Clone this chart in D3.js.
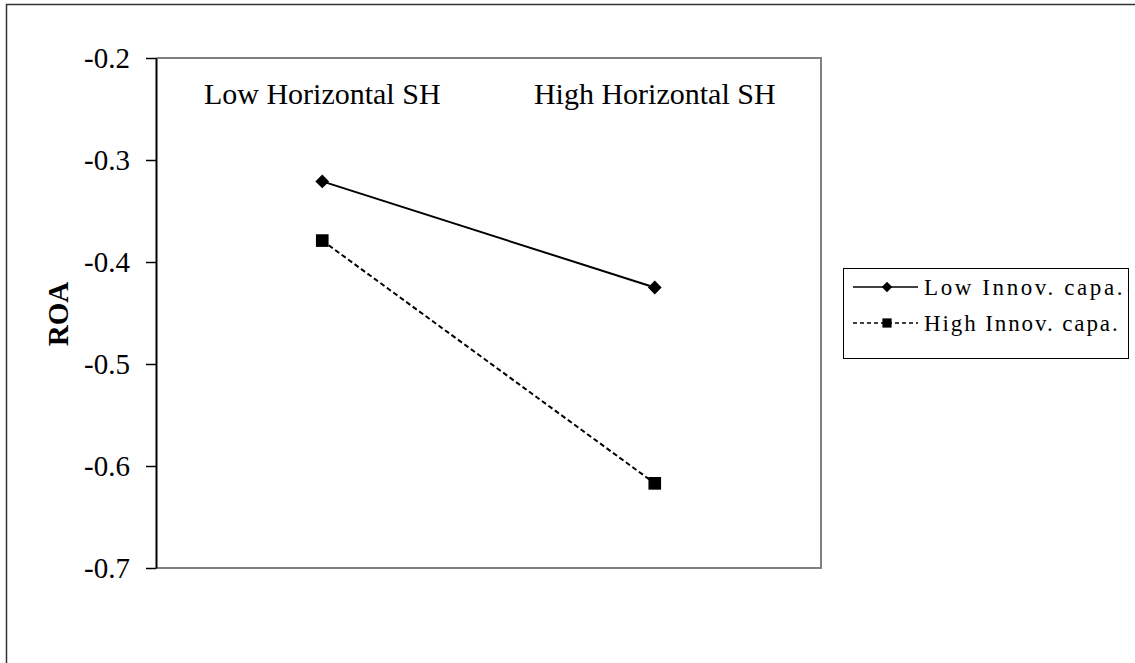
<!DOCTYPE html>
<html>
<head>
<meta charset="utf-8">
<script src="https://cdn.jsdelivr.net/npm/d3@7"></script>
<style>
  body { margin: 0; background: #fff; }
  svg { display: block; font-family: "Liberation Serif", "Times New Roman", serif; }
</style>
</head>
<body>
<div class="chart"></div>
<script>
const categories = ['Low Horizontal SH', 'High Horizontal SH'];
const seriesNames = ['Low Innov. capa.', 'High Innov. capa.'];
const lowInnov = [-0.321, -0.425];
const highInnov = [-0.379, -0.617];
const yTicks = [-0.2, -0.3, -0.4, -0.5, -0.6, -0.7];

const width = 1135, height = 663;
const plot = {left: 156, top: 58, right: 821, bottom: 568};

const svg = d3.select('.chart')
  .append('svg')
    .attr('width', width)
    .attr('height', height);

// outer frame
svg.append('rect')
  .attr('x', 6.5).attr('y', 4.5)
  .attr('width', width + 10).attr('height', height + 10)
  .attr('fill', 'none').attr('stroke', '#333').attr('stroke-width', 1.5);

const x = d3.scaleBand()
  .domain(categories)
  .range([plot.left, plot.right]);

const y = d3.scaleLinear()
  .domain([-0.7, -0.2])
  .range([plot.bottom, plot.top]);

// plot area border (top/right/bottom grey)
svg.append('path')
  .attr('d', `M${plot.left},${plot.top}H${plot.right}V${plot.bottom}H${plot.left}`)
  .attr('fill', 'none').attr('stroke', '#808080').attr('stroke-width', 2);

const yAxis = g => g
  .attr('transform', `translate(${plot.left}, 0)`)
  .call(d3.axisLeft(y).tickValues(yTicks).tickSize(10).tickPadding(16).tickSizeOuter(0))
  .call(g => g.select('.domain').attr('stroke', '#000').attr('stroke-width', 2))
  .call(g => g.selectAll('.tick line').attr('stroke', '#000').attr('stroke-width', 1.5))
  .call(g => g.selectAll('.tick text')
    .attr('font-family', '"Liberation Serif", serif')
    .attr('font-size', 29).attr('fill', '#000')
    .text(d => d3.format('.1f')(d).replace('−', '-')));

svg.append('g').call(yAxis);

// category labels inside top of plot
svg.append('g').selectAll('text')
  .data(categories)
  .join('text')
    .attr('x', d => x(d) + x.bandwidth() / 2)
    .attr('y', 104)
    .attr('text-anchor', 'middle')
    .attr('font-size', 30)
    .text(d => d);

// y axis title
svg.append('text')
  .attr('transform', `translate(68, ${(plot.top + plot.bottom) / 2 + 1}) rotate(-90)`)
  .attr('text-anchor', 'middle')
  .attr('font-size', 29)
  .attr('font-weight', 'bold')
  .text('ROA');

const cx = d => x(d) + x.bandwidth() / 2;
const line = d3.line().x(d => cx(d.cat)).y(d => y(d.v));

const lowData = categories.map((c, i) => ({cat: c, v: lowInnov[i]}));
const highData = categories.map((c, i) => ({cat: c, v: highInnov[i]}));

svg.append('path')
  .datum(lowData)
  .attr('d', line)
  .attr('fill', 'none').attr('stroke', '#000').attr('stroke-width', 2);

svg.append('path')
  .datum(highData)
  .attr('d', line)
  .attr('fill', 'none').attr('stroke', '#000').attr('stroke-width', 2)
  .attr('stroke-dasharray', '5,3');

svg.append('g').selectAll('path')
  .data(lowData)
  .join('path')
    .attr('transform', d => `translate(${cx(d.cat)},${y(d.v)}) rotate(45)`)
    .attr('d', d3.symbol().type(d3.symbolSquare).size(95));

svg.append('g').selectAll('path')
  .data(highData)
  .join('path')
    .attr('transform', d => `translate(${cx(d.cat)},${y(d.v)})`)
    .attr('d', d3.symbol().type(d3.symbolSquare).size(160));

// legend
const legend = svg.append('g').attr('transform', 'translate(843, 268)');
legend.append('rect')
  .attr('x', 0.5).attr('y', 0.5).attr('width', 285).attr('height', 90)
  .attr('fill', '#fff').attr('stroke', '#000').attr('stroke-width', 1);

seriesNames.forEach((name, i) => {
  const ly = 19 + i * 36;
  const row = legend.append('g');
  row.append('line')
    .attr('x1', 10).attr('x2', 75).attr('y1', ly).attr('y2', ly)
    .attr('stroke', '#000').attr('stroke-width', 1.5)
    .attr('stroke-dasharray', i === 0 ? null : '4,3');
  row.append('path')
    .attr('transform', `translate(44,${ly})` + (i === 0 ? ' rotate(45)' : ''))
    .attr('d', d3.symbol().type(d3.symbolSquare).size(i === 0 ? 55 : 85));
  row.append('text')
    .attr('x', 81).attr('y', ly + 8)
    .attr('font-size', 23)
    .attr('letter-spacing', i === 0 ? 2.6 : 1.9)
    .text(name);
});
</script>
</body>
</html>
